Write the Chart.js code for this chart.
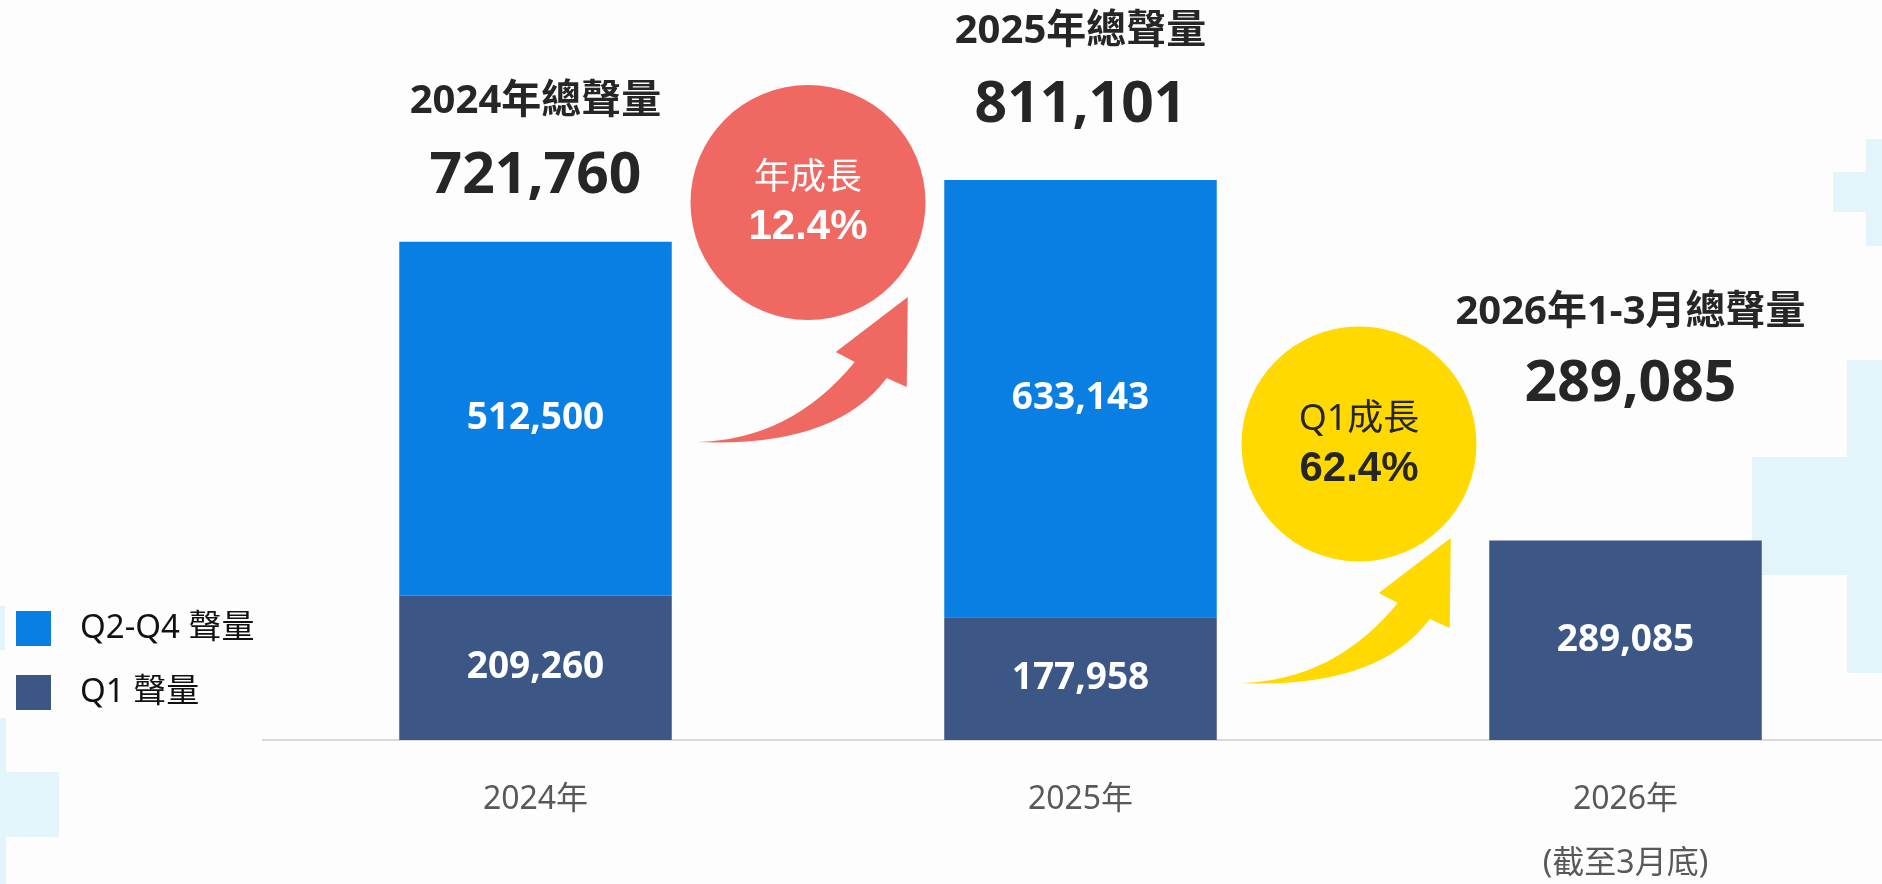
<!DOCTYPE html>
<html>
<head>
<meta charset="utf-8">
<script src="https://cdn.jsdelivr.net/npm/chart.js@4.4.1/dist/chart.umd.min.js"></script>
<style>
  html, body { margin: 0; padding: 0; overflow: hidden; background: #FDFDFD; }
  #wrap { position: absolute; left: 0; top: 0; width: 1900px; height: 924px; }
</style>
</head>
<body>
<div id="wrap"><canvas id="myChart" width="1900" height="924"></canvas></div>
<script>
// chart data
const categories = ['2024年', '2025年', ['2026年', '(截至3月底)']];
const q1Values = [209260, 177958, 289085];
const q2q4Values = [512500, 633143, null];
const totalValues = [721760, 811101, 289085];
const totalTitles = ['2024年總聲量', '2025年總聲量', '2026年1-3月總聲量'];
const growthTitles = ['年成長', 'Q1成長'];
const growthValues = ['12.4%', '62.4%'];
const seriesNames = ['Q1 聲量', 'Q2-Q4 聲量'];

const FONT = "'Noto Sans', 'Noto Sans CJK TC', sans-serif";
const fmt = (v) => v.toLocaleString('en-US');

// background, labels, circles, arrows, legend
const decorPlugin = {
    id: 'decor',
    beforeDraw(chart) {
        const ctx = chart.ctx;
        ctx.save();
        ctx.fillStyle = '#FDFDFD';
        ctx.fillRect(0, 0, chart.width, chart.height);
        ctx.fillStyle = '#E3F4FA';
        // light crosses in the background
        ctx.fillRect(1866, 139, 40, 107);
        ctx.fillRect(1833, 172, 70, 40);
        ctx.fillRect(1847, 360, 60, 313);
        ctx.fillRect(1752, 457, 150, 118);
        ctx.fillRect(0, 718, 6, 170);
        ctx.fillRect(0, 772, 59, 65);
        ctx.fillRect(0, 606, 5, 44);
        ctx.restore();
    },
    afterDatasetsDraw(chart) {
        const ctx = chart.ctx;
        const xs = chart.scales.x;
        ctx.save();
        ctx.textAlign = 'center';
        ctx.textBaseline = 'middle';

        // values inside the bars
        chart.data.datasets.forEach((ds, di) => {
            const meta = chart.getDatasetMeta(di);
            meta.data.forEach((bar, i) => {
                if (ds.data[i] == null) return;
                ctx.fillStyle = '#FFFFFF';
                ctx.font = 'bold 37px ' + FONT;
                ctx.fillText(fmt(ds.data[i]), bar.x, (bar.y + bar.base) / 2);
            });
        });

        // totals above the bars
        const numGap = [65, 74, 156];
        const titleGap = [140, 148, 228];
        const dx = [0, 0, 5];
        totalValues.forEach((v, i) => {
            let top = Infinity, x = 0;
            chart.data.datasets.forEach((ds, di) => {
                if (ds.data[i] == null) return;
                const bar = chart.getDatasetMeta(di).data[i];
                top = Math.min(top, bar.y);
                x = bar.x;
            });
            ctx.fillStyle = '#262626';
            ctx.font = 'bold 40px ' + FONT;
            ctx.fillText(totalTitles[i], x + dx[i], top - titleGap[i]);
            ctx.font = 'bold 57px ' + FONT;
            ctx.fillText(fmt(v), x + dx[i], top - numGap[i]);
        });

        // growth circles + arrows
        const circles = [
            { fill: '#F06862', text: '#FFFFFF', cdx: 0, cy: 202.5, tail: [25, 442] },
            { fill: '#FFD900', text: '#262626', cdx: 6, cy: 444, tail: [23, 683] }
        ];
        circles.forEach((c, i) => {
            const cx = xs.getPixelForValue(i + 0.5) + c.cdx;
            ctx.fillStyle = c.fill;
            ctx.beginPath();
            ctx.arc(cx, c.cy, 117.5, 0, Math.PI * 2);
            ctx.fill();
            ctx.fillStyle = c.text;
            ctx.font = '36px ' + FONT;
            ctx.fillText(growthTitles[i], cx, c.cy - 24);
            ctx.font = "bold 42px 'Liberation Sans', Arial, sans-serif";
            ctx.fillText(growthValues[i], cx, c.cy + 25);

            const prev = chart.getDatasetMeta(0).data[i];
            const tx = prev.x + prev.width / 2 + c.tail[0];
            const ty = c.tail[1];
            ctx.fillStyle = c.fill;
            ctx.beginPath();
            ctx.moveTo(tx, ty);
            ctx.quadraticCurveTo(tx + 94, ty - 2, tx + 158, ty - 80);
            ctx.lineTo(tx + 139, ty - 90);
            ctx.lineTo(tx + 211, ty - 145);
            ctx.lineTo(tx + 210, ty - 55);
            ctx.lineTo(tx + 190, ty - 64);
            ctx.quadraticCurveTo(tx + 138, ty + 6, tx, ty);
            ctx.closePath();
            ctx.fill();
        });

        // legend (top item = top of stack)
        const items = chart.data.datasets.slice().reverse();
        items.forEach((ds, k) => {
            const y = 611 + k * 64;
            ctx.fillStyle = ds.backgroundColor;
            ctx.fillRect(16, y, 35, 35);
            ctx.fillStyle = '#111111';
            ctx.textAlign = 'left';
            ctx.font = '33px ' + FONT;
            ctx.fillText(ds.label, 80, y + 18);
        });
        ctx.restore();
    }
};

const data = {
    labels: categories,
    datasets: [{
        label: seriesNames[0],
        data: q1Values,
        backgroundColor: '#3C5686',
        stack: 'a'
    }, {
        label: seriesNames[1],
        data: q2q4Values,
        backgroundColor: '#0A7FE3',
        stack: 'a'
    }]
};

const config = {
    type: 'bar',
    data: data,
    options: {
        responsive: false,
        animation: false,
        barPercentage: 1,
        categoryPercentage: 0.5,
        layout: { padding: { left: 263, right: 2, top: 0, bottom: 0 } },
        plugins: {
            legend: { display: false },
            tooltip: { enabled: false }
        },
        scales: {
            x: {
                stacked: true,
                grid: { display: false, drawTicks: false },
                border: { display: true, color: '#D9D9D9', width: 2 },
                ticks: {
                    color: '#595959',
                    font: { size: 32, family: FONT, lineHeight: 2 },
                    padding: 28,
                    maxRotation: 0,
                    autoSkip: false
                }
            },
            y: {
                stacked: true,
                display: false,
                min: 0,
                max: 1072000
            }
        }
    },
    plugins: [decorPlugin]
};

const myChart = new Chart(document.getElementById('myChart'), config);
</script>
</body>
</html>
